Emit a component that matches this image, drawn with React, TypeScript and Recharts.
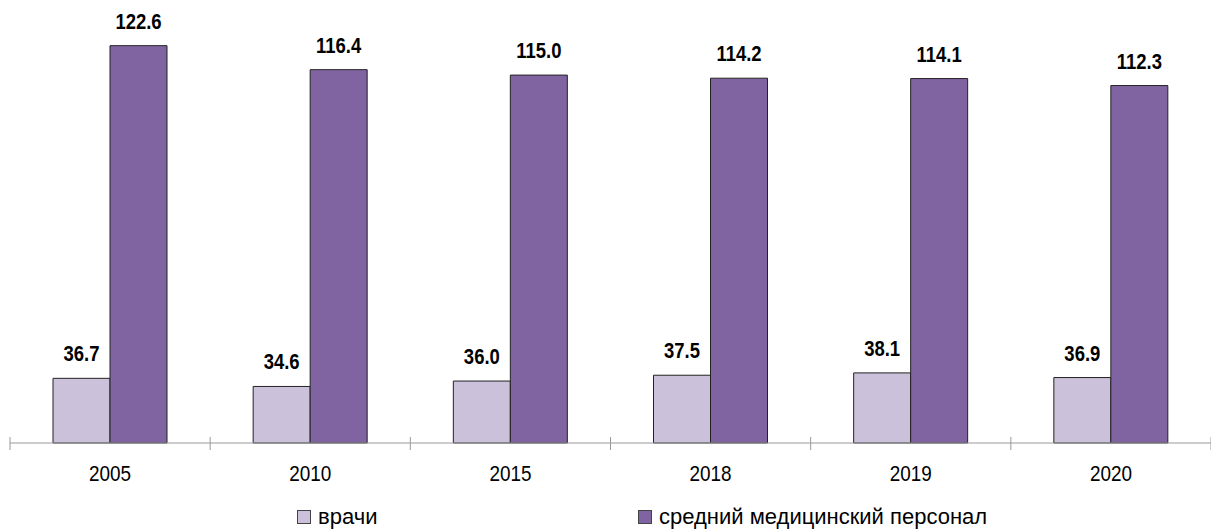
import { Bar, BarChart, LabelList, XAxis, YAxis } from 'recharts';

const years = ['2005', '2010', '2015', '2018', '2019', '2020'];
const doctors = [36.7, 34.6, 36.0, 37.5, 38.1, 36.9];
const nurses = [122.6, 116.4, 115.0, 114.2, 114.1, 112.3];

const seriesNames = ['врачи', 'средний медицинский персонал'];
const colors = ['#CCC1DA', '#8064A2'];

const data = years.map((year, i) => ({ year, doctors: doctors[i], nurses: nurses[i] }));

// no narrow font installed, so squeeze Liberation Sans horizontally
const FONT = '"Liberation Sans", Arial, sans-serif';
const W = 1211;
const H = 530;
const LEFT = 10;
const band = (W - LEFT) / years.length;

function YearTick(props: any) {
  const { x, payload, index } = props;
  const left = x - band / 2;
  return (
    <g>
      <line x1={left} x2={left} y1={437} y2={450} stroke="#999" />
      {index === years.length - 1 && <line x1={left + band} x2={left + band} y1={437} y2={450} stroke="#999" />}
      <text
        transform={`translate(${x},481) scale(0.86,1)`}
        textAnchor="middle"
        fontFamily={FONT}
        fontSize={22}
        fill="#000"
      >
        {payload.value}
      </text>
    </g>
  );
}

function ValueLabel(props: any) {
  const { x, y, width, value } = props;
  const cx = Number(x) + Number(width) / 2;
  return (
    <text
      transform={`translate(${cx},${Number(y) - 17}) scale(0.84,1)`}
      textAnchor="middle"
      fontFamily={FONT}
      fontSize={22}
      fontWeight={700}
      fill="#000"
    >
      {Number(value).toFixed(1)}
    </text>
  );
}

export default function App() {
  return (
    <div style={{ position: 'absolute', left: 0, top: 0, width: W, height: H, background: '#fff' }}>
      <BarChart
        width={W}
        height={H}
        data={data}
        margin={{ top: 17, right: 0, left: LEFT, bottom: 0 }}
        barCategoryGap={43}
        barGap={0}
      >
        <YAxis hide domain={[20, 130]} />
        <XAxis
          dataKey="year"
          height={87}
          axisLine={{ stroke: '#999' }}
          tickLine={false}
          tick={<YearTick />}
          interval={0}
        />
        <Bar dataKey="doctors" fill={colors[0]} stroke="#222" strokeWidth={1} isAnimationActive={false}>
          <LabelList dataKey="doctors" content={<ValueLabel />} />
        </Bar>
        <Bar dataKey="nurses" fill={colors[1]} stroke="#222" strokeWidth={1} isAnimationActive={false}>
          <LabelList dataKey="nurses" content={<ValueLabel />} />
        </Bar>
      </BarChart>
      {seriesNames.map((name, i) => (
        <div
          key={name}
          style={{
            position: 'absolute',
            left: i === 0 ? 297 : 638,
            top: 504,
            display: 'flex',
            alignItems: 'center',
            fontFamily: FONT,
            fontSize: 22,
            color: '#000',
            whiteSpace: 'nowrap',
          }}
        >
          <span
            style={{
              display: 'inline-block',
              width: 12,
              height: 12,
              background: colors[i],
              border: '1px solid #444',
              marginRight: 7,
            }}
          />
          {name}
        </div>
      ))}
    </div>
  );
}
